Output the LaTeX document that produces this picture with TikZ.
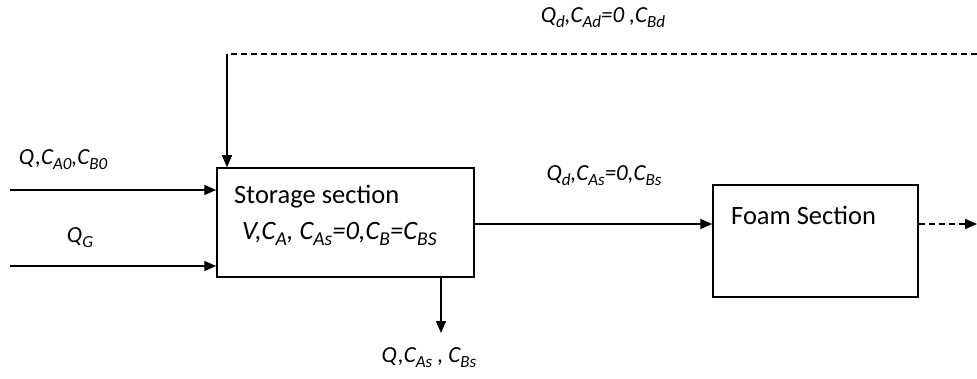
\documentclass[tikz,border=0pt]{standalone}
\usepackage{fontspec}
\setmainfont{Carlito}
\usetikzlibrary{arrows.meta}
% subscript drawn at a fixed fraction of the current size
\newcommand\sbs[1]{\raisebox{-0.22em}{\scalebox{0.74}{#1}}}
\tikzset{
  block/.style={draw, line width=1.5pt, inner sep=0pt},
  flow/.style={line width=1.4pt, -{Triangle[length=12pt,width=10pt]}},
  dflow/.style={line width=1.4pt, dash pattern=on 6pt off 4pt},
  lbl/.style={font=\fontsize{23}{27}\selectfont\itshape, inner sep=0pt},
  boxtxt/.style={font=\fontsize{26.5}{30}\selectfont, inner sep=0pt, anchor=west}
}
\begin{document}
\begin{tikzpicture}[x=1pt,y=-1pt]
\useasboundingbox (0,0) rectangle (977,379);

% blocks
\node[block, minimum width=257pt, minimum height=109pt] (stor) at (345.5,222.5) {};
\node[block, minimum width=205pt, minimum height=112pt] (foam) at (815.5,241) {};
\node[boxtxt] (stortitle) at (234,197) {Storage section};
\node[boxtxt, font=\fontsize{26.5}{30}\selectfont\itshape] (storvars) at (242,234)
  {V,C\sbs{A}, C\sbs{As}=0,C\sbs{B}=C\sbs{BS}};
\node[boxtxt] (foamtitle) at (731,215) {Foam Section};

% free ends
\coordinate (in1) at (10,190);
\coordinate (in2) at (10,266);
\coordinate (fbtop) at (227,54);
\coordinate (fbend) at (977,54);
\coordinate (outdown) at (441,333);
\coordinate (outright) at (977,224);

% input streams
\draw[flow] (in1) -- (in1 -| stor.west);
\draw[flow] (in2) -- (in2 -| stor.west);
\node[lbl] (lq) at (63,160) {Q,C\sbs{A0},C\sbs{B0}};
\node[lbl] (lg) at (80,238) {Q\sbs{G}};

% recycle stream
\draw[dflow] (fbend) -- (fbtop);
\draw[flow] (fbtop) -- (fbtop |- stor.north);
\node[lbl] (lrec) at (603,18) {Q\sbs{d},C\sbs{Ad}=0 ,C\sbs{Bd}};

% storage to foam
\draw[flow] (stor.east |- 0,224) -- (foam.west |- 0,224);
\node[lbl] (lsf) at (604,176) {Q\sbs{d},C\sbs{As}=0,C\sbs{Bs}};

% withdrawal
\draw[flow] (outdown |- stor.south) -- (outdown);
\node[lbl] (lout) at (429,358) {Q,C\sbs{As} , C\sbs{Bs}};

% foam outlet
\draw[dflow] (foam.east |- 0,224) -- (966,224);
\draw[flow] (966,224) -- (outright);
\end{tikzpicture}
\end{document}
